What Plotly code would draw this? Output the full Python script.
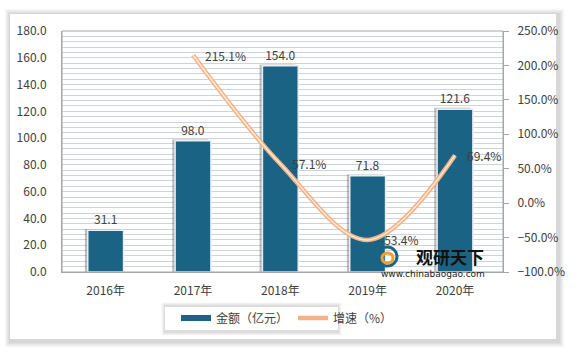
import plotly.graph_objects as go

years = ["2016年", "2017年", "2018年", "2019年", "2020年"]
amount = [31.1, 98.0, 154.0, 71.8, 121.6]
growth_years = ["2017年", "2018年", "2019年", "2020年"]
growth = [215.1, 57.1, -53.4, 69.4]

FONT = "Noto Sans CJK SC, Microsoft YaHei, sans-serif"
BAR = "#1B6385"
LINE = "#F4B183"
TXT = "#404040"

fig = go.Figure()

# bar shadow
fig.add_trace(go.Bar(
    x=years, y=[v + 1.0 for v in amount], width=0.41, offset=-0.238,
    marker=dict(color="rgba(70,70,70,0.35)", line=dict(width=0)),
    showlegend=False, hoverinfo="skip", yaxis="y"))

fig.add_trace(go.Bar(
    x=years, y=amount, name="金额（亿元）", width=0.41, offset=-0.205,
    marker=dict(color=BAR, line=dict(color="#E8EEF2", width=1.5)),
    text=[f"{v:.1f}" for v in amount], textposition="outside",
    textfont=dict(family=FONT, size=12, color=TXT),
    cliponaxis=False, yaxis="y", showlegend=False))

fig.add_trace(go.Scatter(
    x=growth_years, y=growth, mode="lines", showlegend=False,
    line=dict(color=LINE, width=4.5, shape="spline", smoothing=1.0),
    yaxis="y2"))
fig.add_trace(go.Scatter(
    x=growth_years, y=growth, mode="lines", showlegend=False,
    line=dict(color="#FDE9DA", width=1.5, shape="spline", smoothing=1.0),
    yaxis="y2", hoverinfo="skip"))

# legend entries
fig.add_trace(go.Scatter(x=[None], y=[None], mode="lines", name="金额（亿元）",
                         line=dict(color=BAR, width=6)))
fig.add_trace(go.Scatter(x=[None], y=[None], mode="lines", name="增速（%）",
                         line=dict(color=LINE, width=4.5)))

# card + shadow
shapes = []
x0p, x1p = (10 - 62) / 441, (556 - 62) / 441
y1p, y0p = (272 - 14) / 241, (272 - 339) / 241
for i, a in enumerate([0.05, 0.07, 0.09, 0.11]):
    d = (4 - i) * 1.3
    shapes.append(dict(type="rect", xref="paper", yref="paper", layer="below",
                       x0=x0p - d / 441, x1=x1p + (d + 3) / 441,
                       y0=y0p - (d + 3) / 241, y1=y1p + d / 241,
                       line=dict(width=0), fillcolor=f"rgba(120,120,120,{a})"))
shapes.append(dict(type="rect", xref="paper", yref="paper", layer="below",
                   x0=x0p, x1=x1p, y0=y0p, y1=y1p,
                   line=dict(width=0), fillcolor="white"))
# plot-area border
shapes.append(dict(type="rect", xref="paper", yref="paper", layer="above",
                   x0=0, x1=1, y0=0, y1=1, line=dict(color="#A6A6A6", width=1)))
# legend box with soft shadow
for i, a in enumerate([0.06, 0.09, 0.12]):
    d = (3 - i) * 1.2
    shapes.append(dict(type="rect", xref="paper", yref="paper", layer="below",
                       x0=(165 - d - 62) / 441, x1=(338 + d - 62) / 441,
                       y0=(272 - 332 - d) / 241, y1=(272 - 306 + d) / 241,
                       line=dict(width=0), fillcolor=f"rgba(120,120,120,{a})"))
shapes.append(dict(type="rect", xref="paper", yref="paper", layer="below",
                   x0=(165 - 62) / 441, x1=(338 - 62) / 441,
                   y0=(272 - 330) / 241, y1=(272 - 307) / 241,
                   line=dict(width=0), fillcolor="white"))

# growth labels
annotations = []
for xv, yv in zip(growth_years, growth):
    annotations.append(dict(x=xv, y=yv, xref="x", yref="y2", text=f"{yv:.1f}%",
                            showarrow=False, xanchor="left", yanchor="middle",
                            xshift=10, font=dict(family=FONT, size=12, color=TXT)))

annotations += [
    dict(text="<b>观研天下</b>", x=(450 - 62) / 441, y=(272 - 256) / 241,
         xref="paper", yref="paper", showarrow=False,
         font=dict(family=FONT, size=17, color="#111111"), xanchor="center",
         yanchor="middle", borderpad=0),
    dict(text="www.chinabaogao.com", x=(433 - 62) / 441, y=(272 - 274) / 241,
         xref="paper", yref="paper", showarrow=False,
         font=dict(family="DejaVu Sans, sans-serif", size=9, color="#222222"),
         xanchor="center", yanchor="middle", borderpad=0),
]

fig.update_layout(
    width=576, height=358, autosize=False,
    margin=dict(l=62, r=73, t=31, b=86),
    paper_bgcolor="white", plot_bgcolor="#EAF1F7",
    barmode="overlay",
    font=dict(family=FONT, size=12, color=TXT),
    shapes=shapes,
    annotations=annotations,
    showlegend=True,
    legend=dict(orientation="h", x=(176 - 62) / 441, xanchor="left",
                y=(272 - 318) / 241, yanchor="middle",
                bgcolor="rgba(0,0,0,0)", font=dict(family=FONT, size=12, color=TXT),
                itemwidth=30),
    xaxis=dict(type="category", showline=True, linecolor="#A6A6A6", linewidth=1,
               ticks="", tickfont=dict(family=FONT, size=12, color=TXT),
               showgrid=False, ticklabelstandoff=8),
    yaxis=dict(range=[0, 180], dtick=20, tickformat=".1f", showline=True,
               linecolor="#A6A6A6", showgrid=True, gridcolor="#CDD5DC", gridwidth=1,
               minor=dict(dtick=4, showgrid=True, gridcolor="#CDD5DC", gridwidth=1),
               zeroline=False, ticks="", ticklabelstandoff=12,
               tickfont=dict(family=FONT, size=12, color=TXT)),
    yaxis2=dict(range=[-100, 250], dtick=50, overlaying="y", side="right",
                tickformat=".1f", ticksuffix="%", showgrid=False, zeroline=False,
                showline=True, linecolor="#A6A6A6", ticks="outside", ticklen=5,
                tickcolor="#A6A6A6", ticklabelstandoff=6,
                tickfont=dict(family=FONT, size=12, color=TXT)),
)

# watermark logo (simple swirl)
fig.add_shape(type="circle", xref="paper", yref="paper",
              x0=(377 - 62) / 441, x1=(397 - 62) / 441,
              y0=(272 - 266) / 241, y1=(272 - 247) / 241,
              line=dict(color="#1B6385", width=3), fillcolor="rgba(0,0,0,0)")
fig.add_shape(type="circle", xref="paper", yref="paper",
              x0=(382 - 62) / 441, x1=(393 - 62) / 441,
              y0=(272 - 263) / 241, y1=(272 - 253) / 241,
              line=dict(color="#F0A030", width=3), fillcolor="rgba(0,0,0,0)")

fig.write_html("out.html", config={"displayModeBar": False},
               post_script="document.body.style.margin='0px';")
